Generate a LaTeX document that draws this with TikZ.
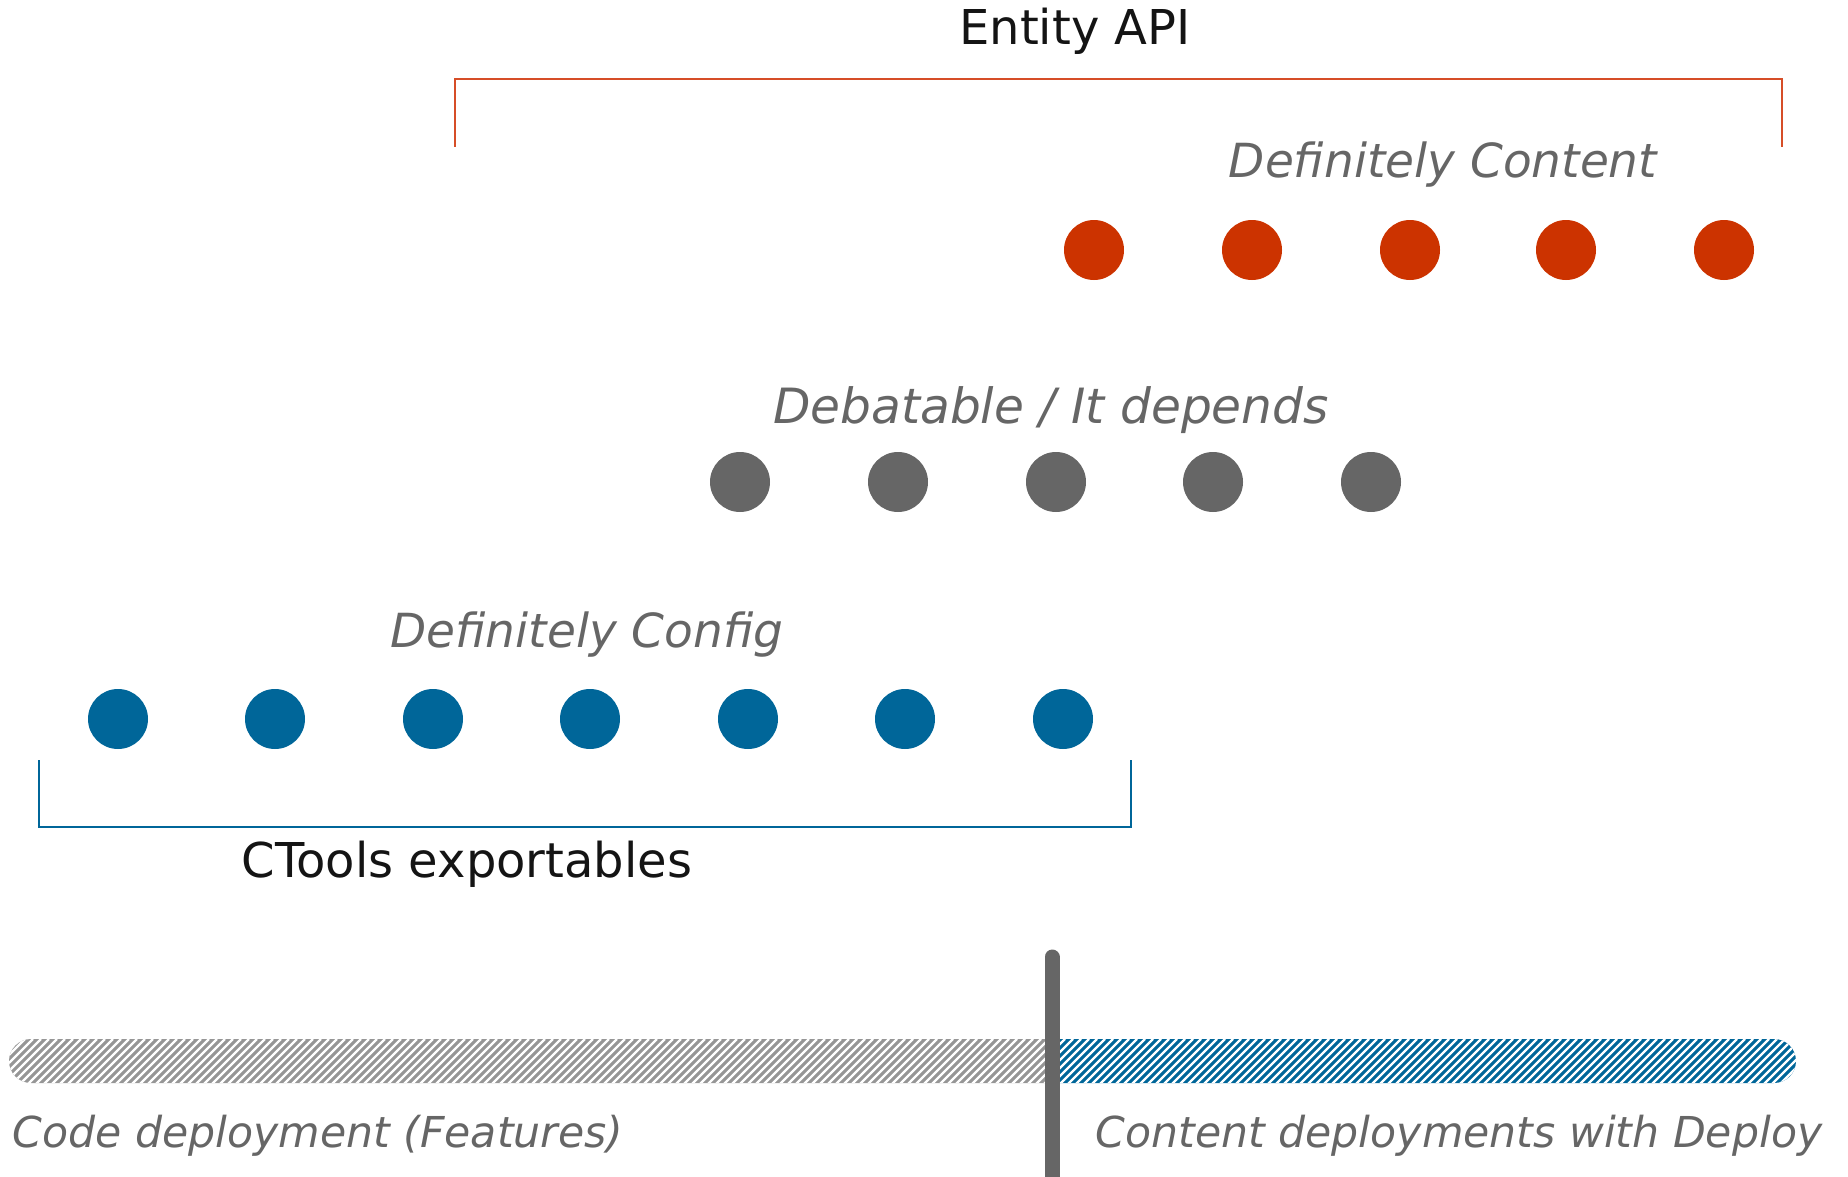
\documentclass[tikz,border=0pt]{standalone}
\usepackage{fontspec}
\setmainfont{DejaVu Sans}
\definecolor{cred}{RGB}{204,51,0}
\definecolor{credline}{RGB}{214,78,40}
\definecolor{cgray}{RGB}{102,102,102}
\definecolor{cblue}{RGB}{0,102,153}
\definecolor{cbarg}{RGB}{150,150,150}
\definecolor{ctext}{RGB}{20,20,20}
\begin{document}
\begin{tikzpicture}[x=0.5pt,y=-0.5pt,
  dot/.style={circle,inner sep=0pt,minimum size=30pt,draw=none},
  reddot/.style={dot,fill=cred},
  graydot/.style={dot,fill=cgray},
  bluedot/.style={dot,fill=cblue},
  title/.style={inner sep=0pt,anchor=base,text=ctext,font=\fontsize{24}{28}\selectfont},
  cat/.style={inner sep=0pt,anchor=base,text=cgray,font=\fontsize{23.5}{28}\selectfont\itshape},
  axis/.style={inner sep=0pt,anchor=base,text=cgray,font=\fontsize{21.3}{26}\selectfont\itshape},
  bracket/.style={line width=1pt},
  stripe/.style={white,line width=1.1pt}
]
\useasboundingbox (0,0) rectangle (1848,1177);

% Entity API bracket
\node[title] (entity) at (1075,45) {Entity API};
\coordinate (ebl) at (455,147);
\coordinate (ebr) at (1782,147);
\draw[bracket,credline] (ebl) |- (1782,79) -- (ebr);

% Definitely content
\node[cat] (dcontent) at (1443,177) {Definitely Content};
\foreach \i/\x in {1/1094,2/1252,3/1410,4/1566,5/1724}
  \node[reddot] (r\i) at (\x,250) {};

% Debatable
\node[cat,font=\fontsize{24.3}{28}\selectfont\itshape] (debat) at (1051,423) {Debatable / It depends};
\foreach \i/\x in {1/740,2/898,3/1056,4/1213,5/1371}
  \node[graydot] (g\i) at (\x,482) {};

% Definitely config
\node[cat] (dconfig) at (587,647) {Definitely Config};
\foreach \i/\x in {1/118,2/275,3/433,4/590,5/748,6/905,7/1063}
  \node[bluedot] (b\i) at (\x,719) {};

% CTools bracket
\coordinate (cbl) at (39,760);
\coordinate (cbr) at (1131,760);
\draw[bracket,cblue] (cbl) |- (1131,827) -- (cbr);
\node[title] (ctools) at (467,877) {CTools exportables};

% Bar
\begin{scope}
  \clip[rounded corners=11pt] (9,1039) rectangle (1796,1083);
  \fill[cbarg] (0,1030) rectangle (1052,1090);
  \fill[cblue] (1052,1030) rectangle (1810,1090);
  \foreach \x in {-50,-42,...,1800}
    \draw[stripe] (\x,1090) -- (\x+51,1039);
\end{scope}

% Divider
\coordinate (dtop) at (1052,957);
\coordinate (dbot) at (1052,1190);
\draw[cgray,line width=7.5pt,line cap=round] (dtop) -- (dbot);

% Axis labels
\node[axis] (code) at (318,1147) {Code deployment (Features)};
\node[axis] (cont) at (1459,1147) {Content deployments with Deploy};
\end{tikzpicture}
\end{document}
